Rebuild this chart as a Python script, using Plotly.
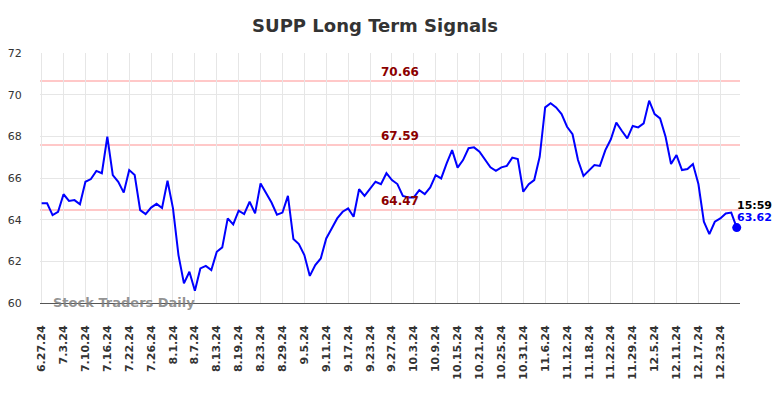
import plotly.graph_objects as go

title = "SUPP Long Term Signals"

tick_labels = ["6.27.24", "7.3.24", "7.10.24", "7.16.24", "7.22.24", "7.26.24", "8.1.24", "8.7.24",
               "8.13.24", "8.19.24", "8.23.24", "8.29.24", "9.5.24", "9.11.24", "9.17.24", "9.23.24",
               "9.27.24", "10.3.24", "10.9.24", "10.15.24", "10.21.24", "10.25.24", "10.31.24", "11.6.24",
               "11.12.24", "11.18.24", "11.22.24", "11.29.24", "12.5.24", "12.11.24", "12.17.24", "12.23.24"]
tick_step = 4

prices = [64.79, 64.79, 64.22, 64.38, 65.22, 64.90, 64.94, 64.74, 65.82, 65.95,
          66.34, 66.23, 67.98, 66.14, 65.82, 65.30, 66.38, 66.14, 64.46, 64.27,
          64.58, 64.76, 64.56, 65.87, 64.54, 62.30, 60.94, 61.50, 60.59, 61.66,
          61.78, 61.58, 62.46, 62.67, 64.06, 63.77, 64.43, 64.27, 64.86, 64.30,
          65.74, 65.26, 64.82, 64.24, 64.34, 65.14, 63.07, 62.83, 62.30, 61.30,
          61.82, 62.14, 63.10, 63.58, 64.06, 64.38, 64.54, 64.14, 65.46, 65.14,
          65.46, 65.82, 65.70, 66.23, 65.90, 65.71, 65.14, 65.07, 65.07, 65.42,
          65.23, 65.55, 66.14, 65.98, 66.70, 67.34, 66.50, 66.86, 67.43, 67.47,
          67.26, 66.90, 66.51, 66.34, 66.51, 66.58, 66.98, 66.91, 65.34, 65.70,
          65.90, 67.02, 69.39, 69.59, 69.39, 69.07, 68.46, 68.10, 66.86, 66.10,
          66.34, 66.62, 66.58, 67.34, 67.86, 68.66, 68.27, 67.90, 68.50, 68.43,
          68.62, 69.71, 69.07, 68.86, 67.98, 66.67, 67.10, 66.38, 66.43, 66.67,
          65.71, 63.90, 63.31, 63.90, 64.06, 64.30, 64.34, 63.62]

signal_levels = [70.66, 67.59, 64.47]
last_time = "15:59"

y_ticks = [60, 62, 64, 66, 68, 70, 72]

x = list(range(len(prices)))
tick_vals = x[::tick_step][:len(tick_labels)]
last_i = x[-1]
last_v = prices[-1]

fig = go.Figure()

fig.add_trace(go.Scatter(x=x, y=prices, mode="lines",
                         line=dict(color="#0000ff", width=2), hoverinfo="skip",
                         showlegend=False, cliponaxis=False))
fig.add_trace(go.Scatter(x=[last_i], y=[last_v], mode="markers",
                         marker=dict(color="#0000ff", size=9), showlegend=False, cliponaxis=False))

shapes = []
annotations = []
for lv in signal_levels:
    shapes.append(dict(type="line", xref="paper", x0=0, x1=1, yref="y", y0=lv, y1=lv,
                       line=dict(color="rgba(255,190,190,0.85)", width=2), layer="below"))
    annotations.append(dict(x=65.5, y=lv, xref="x", yref="y", text=f"{lv:.2f}",
                            showarrow=False, yanchor="bottom", yshift=0,
                            font=dict(family="DejaVu Sans", size=12, color="#8b0000", weight="bold")))

annotations.append(dict(x=last_i, y=last_v, xref="x", yref="y", text=last_time, showarrow=False,
                        xanchor="left", yanchor="middle", xshift=-2, yshift=22,
                        font=dict(family="DejaVu Sans", size=11, color="#000000", weight="bold")))
annotations.append(dict(x=last_i, y=last_v, xref="x", yref="y", text=f"{last_v:.2f}", showarrow=False,
                        xanchor="left", yanchor="middle", xshift=-2, yshift=10,
                        font=dict(family="DejaVu Sans", size=11, color="#0000ff", weight="bold")))
annotations.append(dict(x=0.015, y=60, xref="paper", yref="y", text="Stock Traders Daily",
                        showarrow=False, xanchor="left", yanchor="middle", yshift=1,
                        font=dict(family="DejaVu Sans", size=13, color="rgba(128,128,128,0.85)", weight="bold")))

fig.update_layout(
    width=776, height=390,
    margin=dict(l=32, r=44, t=45, b=95, autoexpand=False),
    paper_bgcolor="white", plot_bgcolor="white",
    title=dict(text=title, xref="container", x=0.473, xanchor="center", y=0.954, yanchor="middle",
               font=dict(family="DejaVu Sans", size=18, color="#333333", weight="bold")),
    shapes=shapes, annotations=annotations,
    xaxis=dict(range=[-0.3, 127.6], tickmode="array", tickvals=tick_vals, ticktext=tick_labels,
               tickangle=-90, showgrid=True, gridcolor="#e6e6e6", gridwidth=1, automargin=False,
               ticks="outside", ticklen=17, tickcolor="rgba(0,0,0,0)",
               showline=True, linecolor="#555555", linewidth=1, zeroline=False,
               tickfont=dict(family="DejaVu Sans", size=11, color="#333333", weight="bold")),
    yaxis=dict(range=[60, 72], tickmode="array", tickvals=y_ticks, showgrid=True, automargin=False,
               gridcolor="#e6e6e6", gridwidth=1, zeroline=False,
               ticks="outside", ticklen=15, tickcolor="rgba(0,0,0,0)",
               tickfont=dict(family="DejaVu Sans", size=11, color="#333333")),
)

fig.write_html("out.html")
